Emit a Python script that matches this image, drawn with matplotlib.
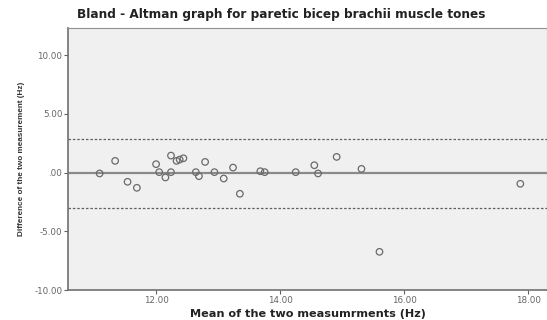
import matplotlib
matplotlib.use("Agg")
import matplotlib.pyplot as plt
from matplotlib.ticker import FuncFormatter

plt.rcParams['font.family'] = ['DejaVu Sans']

mean_x = [11.09, 11.34, 11.54, 11.69, 12.00, 12.05, 12.15, 12.24, 12.24, 12.33,
          12.38, 12.44, 12.64, 12.69, 12.79, 12.94, 13.09, 13.24, 13.35, 13.68,
          13.75, 14.25, 14.55, 14.61, 14.91, 15.31, 15.60, 17.87]
diff_y = [-0.08, 0.99, -0.79, -1.30, 0.71, 0.03, -0.42, 1.44, 0.03, 0.99,
          1.10, 1.21, 0.03, -0.31, 0.90, 0.03, -0.51, 0.42, -1.81, 0.11,
          0.03, 0.03, 0.62, -0.08, 1.33, 0.31, -6.75, -0.96]
mean_diff = -0.08
upper_loa = 2.88
lower_loa = -3.05
x_ticks = [12, 14, 16, 18]
y_ticks = [10, 5, 0, -5, -10]

fig = plt.figure(figsize=(5.47, 3.2), dpi=100)
ax = fig.add_axes([0.1243, 0.09375, 0.8757, 0.81875])
ax.set_facecolor('#f0f0f0')

ax.axhline(mean_diff, color='#8a8a8a', lw=1.6, zorder=2)
ax.axhline(upper_loa, color='#606060', lw=0.9, ls=(0, (2, 1.5)), zorder=2)
ax.axhline(lower_loa, color='#606060', lw=0.9, ls=(0, (2, 1.5)), zorder=2)
ax.scatter(mean_x, diff_y, s=22, facecolors='none', edgecolors='#6a6a6a',
           linewidths=0.9, zorder=3)

ax.set_xlim(10.58, 18.3)
ax.set_ylim(-10, 12.3)
ax.set_xticks(x_ticks)
ax.set_yticks(y_ticks)

def fmt(v, pos):
    s = f"{v:.2f}"
    if s.startswith("0."):
        s = s[1:]
    return s

ax.xaxis.set_major_formatter(FuncFormatter(fmt))
ax.yaxis.set_major_formatter(FuncFormatter(fmt))
ax.tick_params(axis='both', labelsize=6.3, colors='#606060', labelcolor='#666666',
               length=3, width=0.8, direction='out', pad=1)

for s in ['left', 'bottom']:
    ax.spines[s].set_color('#707070')
    ax.spines[s].set_linewidth(1.2)
for s in ['top', 'right']:
    ax.spines[s].set_color('#909090')
    ax.spines[s].set_linewidth(0.8)

ax.set_xlabel('Mean of the two measumrments (Hz)', fontsize=8.1, fontweight='bold',
              color='#222222', labelpad=3)
ax.set_ylabel('Difference of the two measurement (Hz)', fontsize=5.9,
              fontweight='bold', color='#333333', labelpad=7,
              family=['Liberation Sans', 'DejaVu Sans'])
fig.text(0.141, 0.955, 'Bland - Altman graph for paretic bicep brachii muscle tones',
         fontsize=8.7, fontweight='bold', color='#222222', ha='left', va='center')

fig.savefig('out.png', dpi=100)
